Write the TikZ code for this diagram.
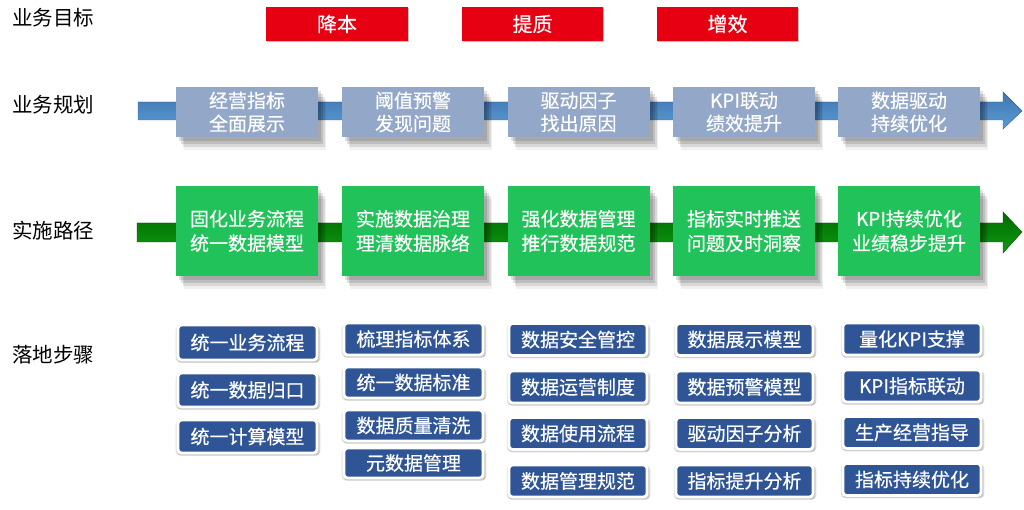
\documentclass[tikz,border=0pt]{standalone}
\usepackage{fontspec}
\setmainfont{Noto Sans CJK SC}
\newfontfamily\boxfont{Noto Sans CJK SC}[FakeBold=0.4]
\usetikzlibrary{shadows}
\definecolor{redbox}{HTML}{E60012}
\definecolor{greybox}{HTML}{93A8C8}
\definecolor{greenbox}{HTML}{22C25A}
\definecolor{navy}{HTML}{2F5597}
\definecolor{shaftA}{HTML}{5B9BD5}
\definecolor{shaftB}{HTML}{3F75B0}
\definecolor{gshaftA}{HTML}{0F9A12}
\definecolor{gshaftB}{HTML}{006B00}
\tikzset{
  softshadow/.style={
     drop shadow={shadow xshift=3, shadow yshift=4, opacity=0.12, fill=black},
     drop shadow={shadow xshift=5, shadow yshift=7, opacity=0.12, fill=black},
     drop shadow={shadow xshift=7, shadow yshift=10, opacity=0.10, fill=black},
     drop shadow={shadow xshift=8, shadow yshift=13, opacity=0.06, fill=black}},
  glow/.style={
     drop shadow={shadow xshift=0.5, shadow yshift=1.5, shadow scale=1.04, opacity=0.12, fill=black},
     drop shadow={shadow xshift=1, shadow yshift=2.5, shadow scale=1.02, opacity=0.12, fill=black}},
  rowlabel/.style={anchor=west, inner sep=0, font=\fontsize{20.5}{24}\selectfont, text=black},
  goalbox/.style={fill=redbox, text=white, minimum height=34, inner sep=0,
     font=\boxfont\fontsize{20}{24}\selectfont,
     drop shadow={shadow xshift=1, shadow yshift=1.5, opacity=0.25, fill=black}},
  planbox/.style={fill=greybox, text=white, minimum width=142, minimum height=50, inner sep=0, align=center,
     font=\boxfont\fontsize{19}{23}\selectfont, softshadow},
  pathbox/.style={fill=greenbox, text=white, minimum width=142, minimum height=90, inner sep=0, align=center,
     font=\boxfont\fontsize{19}{24.5}\selectfont, softshadow},
  stepbox/.style={fill=navy, draw=white, line width=2.8, rounded corners=3.5, text=white, inner sep=0,
     font=\boxfont\fontsize{19}{22}\selectfont, glow},
}
\begin{document}
\begin{tikzpicture}[x=1pt,y=-1pt]
\useasboundingbox (0,0) rectangle (1024,510);
% row labels
\node[rowlabel] (l1) at (12,18) {业务目标};
\node[rowlabel] (l2) at (12,105) {业务规划};
\node[rowlabel] (l3) at (12,231) {实施路径};
\node[rowlabel] (l4) at (12,355) {落地步骤};
% goals
\node[goalbox, minimum width=142] (g1) at (337,24) {降本};
\node[goalbox, minimum width=141] (g2) at (532.5,24) {提质};
\node[goalbox, minimum width=141] (g3) at (727.5,24) {增效};
% blue arrow
\coordinate (be) at (1022,111);
\shade[top color=shaftB, bottom color=shaftA, draw=shaftB!80!black, line width=0.4]
  (138,102) -- (1003,102) -- (1003,92) -- (be) -- (1003,129) -- (1003,120) -- (138,120) -- cycle;
% planning boxes
\node[planbox] (p1) at (247,112) {经营指标\\全面展示};
\node[planbox] (p2) at (413,112) {阈值预警\\发现问题};
\node[planbox] (p3) at (578.5,112) {驱动因子\\找出原因};
\node[planbox] (p4) at (744,112) {KPI联动\\绩效提升};
\node[planbox] (p5) at (909,112) {数据驱动\\持续优化};
% green arrow
\coordinate (ge) at (1022,232);
\shade[top color=gshaftB, bottom color=gshaftA, draw=gshaftB!70!black, line width=0.4]
  (137,223) -- (1003,223) -- (1003,212) -- (ge) -- (1003,253) -- (1003,242) -- (137,242) -- cycle;
% path boxes
\node[pathbox] (q1) at (247,231) {固化业务流程\\统一数据模型};
\node[pathbox] (q2) at (413,231) {实施数据治理\\理清数据脉络};
\node[pathbox] (q3) at (578.5,231) {强化数据管理\\推行数据规范};
\node[pathbox] (q4) at (744,231) {指标实时推送\\问题及时洞察};
\node[pathbox] (q5) at (909,231) {KPI持续优化\\业绩稳步提升};
% steps column 1
\node[stepbox, minimum width=139, minimum height=35] (s11) at (247.5,342.5) {统一业务流程};
\node[stepbox, minimum width=139, minimum height=34] (s12) at (247.5,390) {统一数据归口};
\node[stepbox, minimum width=139, minimum height=33] (s13) at (247.5,436.5) {统一计算模型};
% column 2
\node[stepbox, minimum width=139, minimum height=32] (s21) at (413.5,339) {梳理指标体系};
\node[stepbox, minimum width=139, minimum height=31] (s22) at (413.5,382.5) {统一数据标准};
\node[stepbox, minimum width=139, minimum height=31] (s23) at (413.5,425.5) {数据质量清洗};
\node[stepbox, minimum width=139, minimum height=30] (s24) at (413.5,463) {元数据管理};
% column 3
\node[stepbox, minimum width=138, minimum height=32] (s31) at (578,339.5) {数据安全管控};
\node[stepbox, minimum width=138, minimum height=32] (s32) at (578,387) {数据运营制度};
\node[stepbox, minimum width=138, minimum height=32] (s33) at (578,433.5) {数据使用流程};
\node[stepbox, minimum width=138, minimum height=32] (s34) at (578,481) {数据管理规范};
% column 4
\node[stepbox, minimum width=137, minimum height=32] (s41) at (744.5,339.5) {数据展示模型};
\node[stepbox, minimum width=137, minimum height=32] (s42) at (744.5,387) {数据预警模型};
\node[stepbox, minimum width=137, minimum height=32] (s43) at (744.5,433.5) {驱动因子分析};
\node[stepbox, minimum width=137, minimum height=32] (s44) at (744.5,481) {指标提升分析};
% column 5
\node[stepbox, minimum width=138, minimum height=32] (s51) at (912,339) {量化KPI支撑};
\node[stepbox, minimum width=138, minimum height=32] (s52) at (912,386) {KPI指标联动};
\node[stepbox, minimum width=138, minimum height=32] (s53) at (912,432.5) {生产经营指导};
\node[stepbox, minimum width=138, minimum height=32] (s54) at (912,479.5) {指标持续优化};
\end{tikzpicture}
\end{document}
